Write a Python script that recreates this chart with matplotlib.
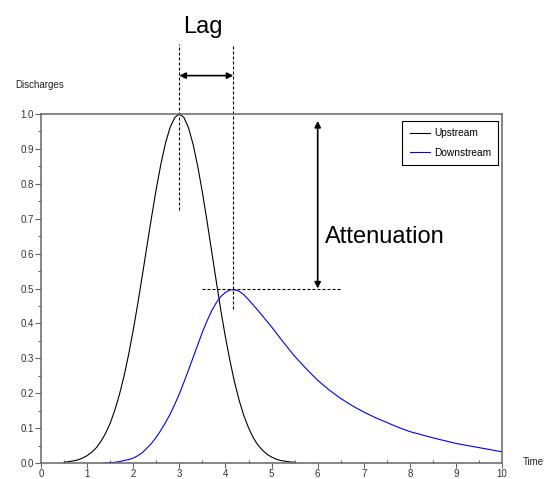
import matplotlib.pyplot as plt
import numpy as np

plt.rcParams['font.family'] = ['Liberation Sans', 'DejaVu Sans']

# Données
t_amont = [0.5, 0.6, 0.7, 0.8, 0.9, 1.0, 1.1, 1.2, 1.3, 1.4, 1.5, 1.6, 1.7, 1.8, 1.9,
           2.0, 2.1, 2.2, 2.3, 2.4, 2.5, 2.6, 2.7, 2.8, 2.9, 3.0, 3.1, 3.2, 3.3, 3.4,
           3.5, 3.6, 3.7, 3.8, 3.9, 4.0, 4.1, 4.2, 4.3, 4.4, 4.5, 4.6, 4.7, 4.8, 4.9,
           5.0, 5.1, 5.2, 5.3, 5.4, 5.5]
q_amont = [0.002, 0.004, 0.006, 0.009, 0.014, 0.021, 0.031, 0.044, 0.062, 0.085,
           0.114, 0.151, 0.196, 0.249, 0.311, 0.381, 0.458, 0.540, 0.624, 0.707,
           0.786, 0.857, 0.917, 0.962, 0.990, 1.000, 0.990, 0.960, 0.912, 0.849,
           0.775, 0.693, 0.607, 0.521, 0.437, 0.360, 0.291, 0.230, 0.178, 0.135,
           0.101, 0.073, 0.052, 0.037, 0.025, 0.017, 0.011, 0.007, 0.005, 0.003, 0.002]

t_aval = [1.35, 1.5, 1.6, 1.7, 1.8, 1.9, 2.0, 2.1, 2.2, 2.3, 2.4, 2.5, 2.6, 2.7, 2.8,
          2.9, 3.0, 3.1, 3.2, 3.3, 3.4, 3.5, 3.6, 3.7, 3.8, 3.9, 4.0, 4.1, 4.2, 4.3,
          4.4, 4.5, 4.6, 4.7, 4.8, 4.9, 5.0, 5.25, 5.5, 5.75, 6.0, 6.25, 6.5, 6.75,
          7.0, 7.25, 7.5, 7.75, 8.0, 8.25, 8.5, 8.75, 9.0, 9.25, 9.5, 9.75, 10.0]
q_aval = [0.0, 0.001, 0.002, 0.004, 0.007, 0.010, 0.014, 0.021, 0.030, 0.043, 0.057,
          0.074, 0.094, 0.116, 0.140, 0.168, 0.198, 0.232, 0.267, 0.303, 0.339,
          0.375, 0.407, 0.436, 0.459, 0.477, 0.489, 0.496, 0.496, 0.492, 0.482,
          0.468, 0.453, 0.438, 0.422, 0.406, 0.390, 0.347, 0.306, 0.270, 0.237,
          0.209, 0.185, 0.164, 0.146, 0.130, 0.116, 0.102, 0.090, 0.081, 0.072,
          0.064, 0.056, 0.050, 0.044, 0.038, 0.032]

# Repères des annotations
t_pic_amont = 3.0
t_pic_aval = 4.17
q_pic_amont = 1.0
q_pic_aval = 0.5

gris = '#666666'

fig = plt.figure(figsize=(5.47, 4.79), dpi=100)
ax = fig.add_axes([0.075, 0.0334, 0.843, 0.7286])

ax.plot(t_amont, q_amont, color='black', lw=0.8, label='Upstream')
ax.plot(t_aval, q_aval, color='#0000ff', lw=0.8, label='Downstream')

# Axes
ax.set_xlim(0, 10)
ax.set_ylim(0, 1)
ax.set_xticks(np.arange(0, 11, 1))
ax.set_xticks(np.arange(0.5, 10, 1), minor=True)
ax.set_yticks(np.arange(0, 1.01, 0.1))
ax.set_yticks(np.arange(0.05, 1, 0.1), minor=True)
ax.xaxis.set_major_formatter(plt.FormatStrFormatter('%d'))
ax.yaxis.set_major_formatter(plt.FormatStrFormatter('%.1f'))
for s in ax.spines.values():
    s.set_color(gris)
    s.set_linewidth(1.1)
ax.tick_params(which='both', colors=gris, labelcolor='#333333', labelsize=7, width=0.8)
ax.tick_params(axis='y', which='major', direction='out', length=4.3, pad=1)
ax.tick_params(axis='y', which='minor', direction='out', length=2.2)
ax.tick_params(axis='x', which='major', direction='out', length=3.5, pad=0.5)
ax.tick_params(axis='x', which='minor', direction='in', length=2.2)

fig.text(15 / 547, 1 - 85 / 479, 'Discharges', fontsize=7, va='center', color='#222222')
fig.text(523 / 547, 1 - 462 / 479, 'Time', fontsize=7, va='center', color='#222222')

# Légende
leg = ax.legend(loc='upper right', bbox_to_anchor=(0.9913, 0.98), borderaxespad=0,
                fontsize=7.3, fancybox=False, framealpha=1, edgecolor='black',
                handlelength=2.0, handletextpad=0.4, borderpad=0.7, labelspacing=0.95)
leg.get_frame().set_linewidth(0.8)

# Décalage (Lag)
tirets = (0, (2.7, 1.8))
ax.plot([t_pic_amont, t_pic_amont], [0.726, 1.2], color='black', lw=0.8,
        ls=tirets, clip_on=False)
ax.plot([t_pic_aval, t_pic_aval], [0.44, 1.2], color='black', lw=0.8,
        ls=tirets, clip_on=False)
ax.annotate('', xy=(t_pic_aval, 1.11), xytext=(t_pic_amont, 1.11),
            arrowprops=dict(arrowstyle='<|-|>', color='black', lw=1.2,
                            mutation_scale=9, shrinkA=0, shrinkB=0),
            annotation_clip=False)
ax.text(3.5, 1.233, 'Lag', fontsize=17, ha='center', va='baseline', clip_on=False)

# Atténuation
ax.plot([3.5, 6.5], [q_pic_aval, q_pic_aval], color='black', lw=0.8, ls=tirets)
ax.annotate('', xy=(6.0, 0.98), xytext=(6.0, q_pic_aval),
            arrowprops=dict(arrowstyle='<|-|>', color='black', lw=1.2,
                            mutation_scale=9, shrinkA=0, shrinkB=0))
ax.text(6.16, 0.631, 'Attenuation', fontsize=17, ha='left', va='baseline')

plt.savefig('out.png', dpi=100)
